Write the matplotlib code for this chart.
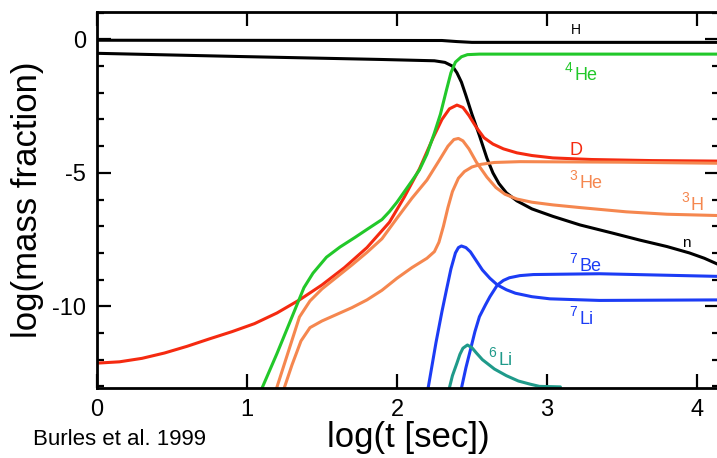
import matplotlib
matplotlib.use("Agg")
from matplotlib import pyplot as plt
from matplotlib.ticker import MultipleLocator

plt.rcParams['font.family'] = ['Liberation Sans', 'DejaVu Sans']

# log(t) und log(Massenanteil)
h_t = [0, 2.3, 2.4, 2.5, 4.15]
h_y = [-0.03, -0.04, -0.08, -0.11, -0.11]

n_t = [0, 0.95, 1.89, 2.25, 2.32, 2.37, 2.40, 2.43, 2.46, 2.5, 2.55, 2.6, 2.64, 2.68,
       2.73, 2.8, 2.9, 3.04, 3.22, 3.44, 3.62, 3.8, 3.95, 4.05, 4.15]
n_y = [-0.52, -0.64, -0.75, -0.8, -0.86, -1.0, -1.25, -1.6, -2.1, -2.8, -3.6, -4.45,
       -5.0, -5.4, -5.75, -6.05, -6.35, -6.63, -6.95, -7.26, -7.52, -7.76, -8.0,
       -8.2, -8.45]

he4_t = [1.09, 1.2, 1.3, 1.38, 1.44, 1.53, 1.62, 1.72, 1.8, 1.9, 1.95, 2.0, 2.05,
         2.1, 2.15, 2.2, 2.25, 2.29, 2.33, 2.36, 2.39, 2.43, 2.47, 2.55, 4.15]
he4_y = [-13.2, -11.77, -10.4, -9.3, -8.76, -8.16, -7.78, -7.42, -7.12, -6.75,
         -6.45, -6.1, -5.7, -5.3, -4.89, -4.3, -3.5, -2.8, -1.9, -1.25, -0.85,
         -0.65, -0.57, -0.55, -0.55]

d_t = [0, 0.15, 0.3, 0.45, 0.6, 0.75, 0.9, 1.05, 1.2, 1.35, 1.5, 1.65, 1.8, 1.95,
       2.05, 2.15, 2.24, 2.3, 2.35, 2.40, 2.44, 2.48, 2.53, 2.58, 2.64, 2.71, 2.8,
       2.9, 3.04, 3.3, 3.7, 4.15]
d_y = [-12.13, -12.08, -11.95, -11.75, -11.5, -11.22, -10.95, -10.65, -10.25,
       -9.76, -9.2, -8.55, -7.8, -6.85, -5.9, -4.85, -3.7, -3.0, -2.6, -2.46,
       -2.55, -2.85, -3.3, -3.68, -3.92, -4.1, -4.25, -4.35, -4.44, -4.5, -4.54,
       -4.56]

h3_t = [1.19, 1.27, 1.35, 1.42, 1.5, 1.6, 1.7, 1.8, 1.9, 2.0, 2.1, 2.2, 2.28,
        2.34, 2.38, 2.41, 2.44, 2.48, 2.53, 2.6, 2.66, 2.72, 2.8, 2.9, 3.04, 3.22,
        3.53, 3.8, 4.15]
h3_y = [-13.2, -11.8, -10.4, -9.8, -9.35, -8.9, -8.45, -7.98, -7.47, -6.7, -5.95,
        -5.27, -4.55, -4.0, -3.75, -3.71, -3.8, -4.1, -4.6, -5.16, -5.55, -5.8,
        -5.98, -6.1, -6.2, -6.3, -6.46, -6.55, -6.6]

he3_t = [1.24, 1.3, 1.36, 1.42, 1.5, 1.6, 1.7, 1.8, 1.9, 2.0, 2.1, 2.2, 2.25,
         2.28, 2.31, 2.34, 2.37, 2.41, 2.45, 2.5, 2.56, 2.65, 2.82, 3.5, 4.15]
he3_y = [-13.2, -12.2, -11.3, -10.8, -10.55, -10.3, -10.05, -9.76, -9.4, -8.95,
         -8.55, -8.2, -7.95, -7.6, -7.0, -6.3, -5.7, -5.2, -4.95, -4.78, -4.68,
         -4.61, -4.58, -4.6, -4.64]

li7_t = [2.2, 2.21, 2.26, 2.3, 2.33, 2.36, 2.39, 2.41, 2.43, 2.46, 2.49, 2.53,
         2.57, 2.62, 2.67, 2.73, 2.79, 2.9, 3.02, 3.35, 4.15]
li7_y = [-13.2, -13.0, -11.37, -10.2, -9.39, -8.6, -8.0, -7.8, -7.74, -7.8, -7.96,
         -8.3, -8.64, -8.95, -9.2, -9.38, -9.51, -9.64, -9.72, -9.78, -9.76]

be7_t = [2.425, 2.46, 2.49, 2.52, 2.55, 2.59, 2.62, 2.67, 2.71, 2.75, 2.82, 2.91,
         3.35, 4.15]
be7_y = [-13.2, -12.3, -11.63, -10.95, -10.39, -9.95, -9.64, -9.2, -9.03, -8.93,
         -8.85, -8.81, -8.78, -8.88]

li6_t = [2.35, 2.37, 2.4, 2.42, 2.44, 2.47, 2.5, 2.53, 2.57, 2.65, 2.73, 2.81,
         2.89, 2.95, 3.09]
li6_y = [-13.05, -12.6, -12.13, -11.8, -11.57, -11.45, -11.55, -11.75, -12.0,
         -12.35, -12.6, -12.8, -12.92, -13.0, -13.02]

black = 'black'
red = '#f52a10'
orange = '#f5874f'
green = '#22c82a'
blue = '#1c3cf5'
teal = '#1f9a8a'

fig = plt.figure(figsize=(7.17, 4.58), dpi=100)
ax = fig.add_axes([0.1353, 0.1535, 0.868, 0.8210])

lw = 2.2
style = dict(lw=lw, solid_joinstyle='round', solid_capstyle='round')
ax.plot(h_t, h_y, color=black, **style)
ax.plot(n_t, n_y, color=black, **style)
ax.plot(d_t, d_y, color=red, **style)
ax.plot(h3_t, h3_y, color=orange, **style)
ax.plot(he3_t, he3_y, color=orange, **style)
ax.plot(he4_t, he4_y, color=green, **style)
ax.plot(li7_t, li7_y, color=blue, **style)
ax.plot(be7_t, be7_y, color=blue, **style)
ax.plot(li6_t, li6_y, color=teal, **style)


def iso_label(x, y, num, sym, color, dx=7):
    # Massenzahl hochgestellt, Elementsymbol leicht tiefer
    ax.annotate(num, (x, y), xytext=(0, 6), textcoords='offset points',
                fontsize=10, color=color)
    ax.annotate(sym, (x, y), xytext=(dx, 0), textcoords='offset points',
                fontsize=13, color=color)


ax.text(3.19, 0.22, 'H', fontsize=10, color=black, ha='center')
iso_label(3.12, -1.53, '4', 'He', green)
ax.text(3.15, -4.33, 'D', fontsize=13, color=red)
iso_label(3.15, -5.58, '3', 'He', orange)
iso_label(3.9, -6.4, '3', 'H', orange, dx=6)
ax.text(3.9, -7.76, 'n', fontsize=11, color=black)
iso_label(3.15, -8.68, '7', 'Be', blue)
iso_label(3.15, -10.67, '7', 'Li', blue)
iso_label(2.61, -12.21, '6', 'Li', teal)

ax.set_xlim(0, 4.15)
ax.set_ylim(-13.05, 1.04)
ax.set_xticks([0, 1, 2, 3, 4])
ax.set_yticks([0, -5, -10])
ax.set_yticklabels(['0', '-5', '-10'])
ax.yaxis.set_minor_locator(MultipleLocator(1))
ax.tick_params(which='major', direction='in', length=10, width=1.6,
               top=True, right=True, labelsize=17, pad=8)
ax.tick_params(which='minor', direction='in', length=5, width=1.6, right=True)
for s in ax.spines.values():
    s.set_linewidth(2)

ax.set_xlabel('log(t [sec])', fontsize=25, labelpad=0)
ax.set_ylabel('log(mass fraction)', fontsize=25, labelpad=6)
fig.text(0.046, 0.04, 'Burles et al. 1999', fontsize=16, va='center')

fig.savefig('out.png', dpi=100)
